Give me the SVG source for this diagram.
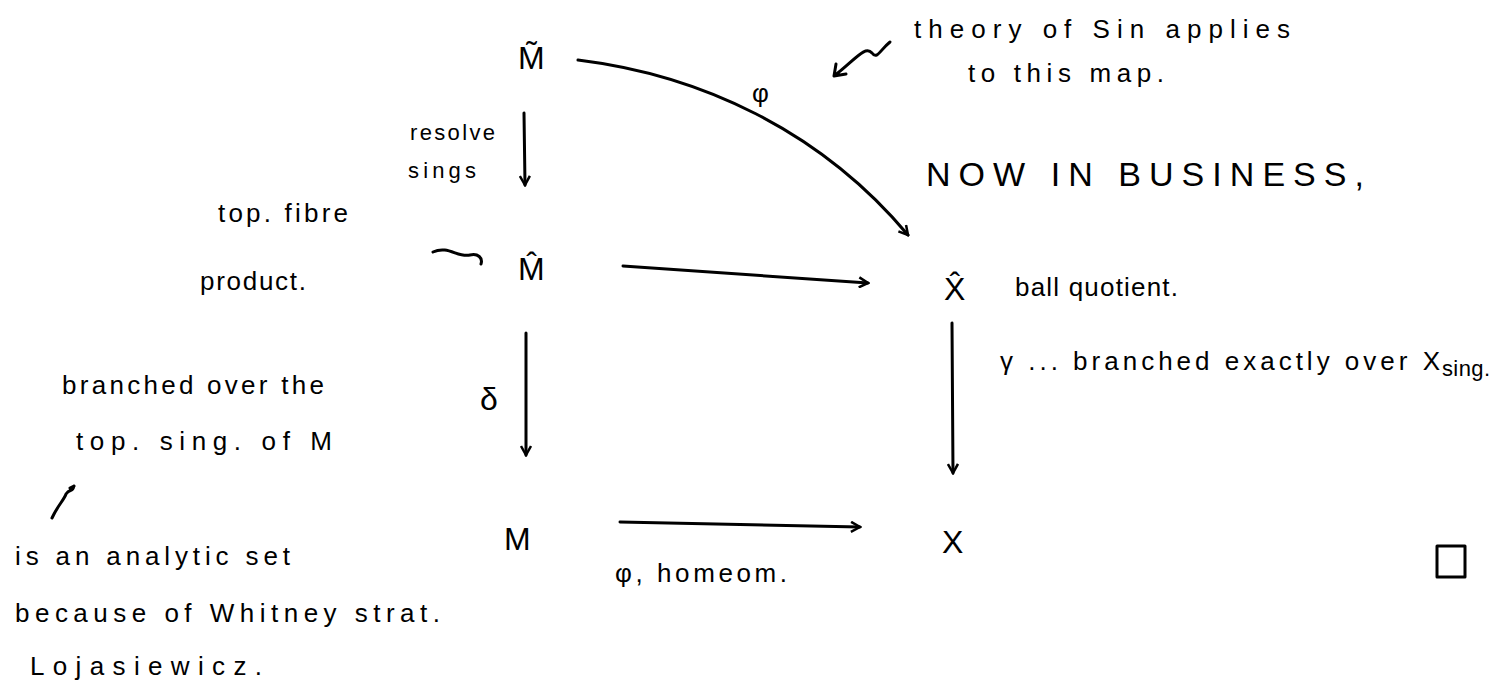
<svg xmlns="http://www.w3.org/2000/svg" width="1504" height="682" viewBox="0 0 1504 682">
<style>
.t{font-family:"Liberation Sans",Arial,sans-serif;fill:#000}
.n{font-size:32px}
.l{font-size:26px}
.s{font-size:22px}
.b{font-size:34px}
.c{fill:none;stroke:#000;stroke-width:3;stroke-linecap:round;stroke-linejoin:round}
</style>
<defs>
<marker id="ah" viewBox="0 0 12 12" refX="10" refY="6" markerWidth="12" markerHeight="12" markerUnits="userSpaceOnUse" orient="auto">
<path d="M1,1 L10,6 L1,11" fill="none" stroke="#000" stroke-width="2.5"/>
</marker>
</defs>
<rect width="1504" height="682" fill="#fff"/>
<g id="node-Mtilde"><text class="t n" x="518" y="69">M&#x0303;</text></g>
<g id="node-Mhat"><text class="t n" x="518" y="280">M&#x0302;</text></g>
<g id="node-M"><text class="t n" x="504" y="550">M</text></g>
<g id="node-Xhat"><text class="t n" x="944" y="300">X&#x0302;</text></g>
<g id="node-X"><text class="t n" x="942" y="553">X</text></g>
<g id="connectors">
<path class="c" d="M578,60 C700,75 820,130 908,235" marker-end="url(#ah)"/>
<path class="c" d="M524,113 L525,185" marker-end="url(#ah)"/>
<path class="c" d="M623,266 L868,283" marker-end="url(#ah)"/>
<path class="c" d="M526,333 L526,455" marker-end="url(#ah)"/>
<path class="c" d="M952,323 L953,473" marker-end="url(#ah)"/>
<path class="c" d="M620,522 L860,527" marker-end="url(#ah)"/>
<path class="c" d="M433,252 C448,245 458,258 470,255 C478,253 483,258 481,264"/>
<path class="c" d="M890,42 C880,50 877,60 872,53 C865,45 855,60 834,76 M834,76 L836,64 M834,76 L846,74"/>
<path class="c" d="M52,518 C58,505 64,500 66,494 C70,488 72,493 74,486 M74,486 L70,488"/>
</g>
<g id="labels">
<text class="t l" x="752" y="102">φ</text>
<text class="t s" x="410" y="140" textLength="85" lengthAdjust="spacing">resolve</text>
<text class="t s" x="408" y="178" textLength="68" lengthAdjust="spacing">sings</text>
<text class="t l" x="218" y="222" textLength="130" lengthAdjust="spacing">top. fibre</text>
<text class="t l" x="200" y="290" textLength="106" lengthAdjust="spacing">product.</text>
<text class="t l" x="914" y="38" textLength="376" lengthAdjust="spacing">theory of Sin applies</text>
<text class="t l" x="968" y="82" textLength="196" lengthAdjust="spacing">to this map.</text>
<text class="t b" x="926" y="186" textLength="438" lengthAdjust="spacing">NOW IN BUSINESS,</text>
<text class="t l" x="1015" y="296" textLength="163" lengthAdjust="spacing">ball quotient.</text>
<text class="t l" x="1000" y="370" textLength="440" lengthAdjust="spacing">γ ... branched exactly over X</text>
<text class="t s" x="1442" y="376" textLength="48" lengthAdjust="spacing">sing.</text>
<text class="t n" x="480" y="410">δ</text>
<text class="t l" x="62" y="394" textLength="262" lengthAdjust="spacing">branched over the</text>
<text class="t l" x="76" y="450" textLength="256" lengthAdjust="spacing">top. sing. of M</text>
<text class="t l" x="15" y="565" textLength="275" lengthAdjust="spacing">is an analytic set</text>
<text class="t l" x="15" y="622" textLength="425" lengthAdjust="spacing">because of Whitney strat.</text>
<text class="t l" x="30" y="675" textLength="232" lengthAdjust="spacing">Lojasiewicz.</text>
<text class="t l" x="615" y="582" textLength="172" lengthAdjust="spacing">φ, homeom.</text>
</g>
<rect class="c" x="1437" y="546" width="28" height="31"/>
</svg>
